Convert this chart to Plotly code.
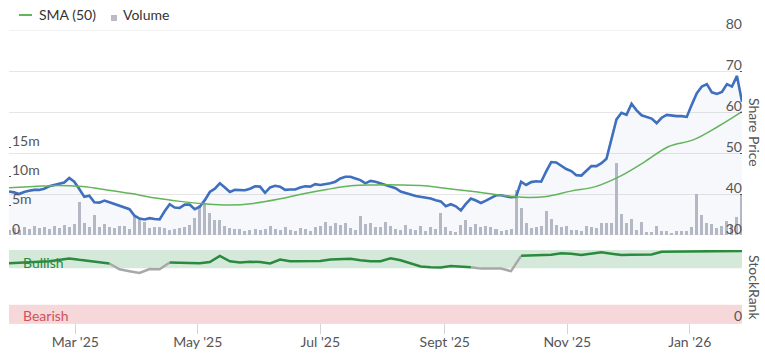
import pandas as pd
import plotly.graph_objects as go

START, END = "2025-01-27", "2026-01-27"

# Share price (evenly spaced over the year)
price = [40.6, 40.4, 40.0, 40.5, 40.8, 41.0, 41.0, 41.3, 41.9, 42.2,
         42.4, 42.8, 43.9, 43.0, 41.2, 39.3, 39.6, 38.0, 37.9, 38.4,
         38.0, 37.6, 37.2, 36.8, 36.3, 34.7, 34.0, 33.8, 34.1, 33.9,
         33.8, 35.8, 37.5, 36.7, 36.6, 37.4, 37.4, 36.3, 36.9, 38.5,
         40.5, 41.3, 42.6, 41.6, 40.5, 41.0, 40.9, 40.9, 41.3, 41.9,
         41.8, 40.3, 41.6, 42.0, 41.8, 41.0, 41.1, 41.1, 41.6, 41.9,
         41.8, 42.4, 42.2, 42.4, 42.6, 43.0, 43.8, 44.2, 44.2, 43.8,
         43.4, 42.6, 43.2, 43.0, 42.6, 42.2, 41.8, 41.4, 40.6, 40.3,
         39.9, 39.5, 39.3, 39.2, 38.9, 38.5, 38.2, 37.0, 37.5, 37.0,
         36.0, 37.6, 38.9, 38.4, 37.8, 38.4, 39.1, 39.7, 39.7, 39.5,
         39.2, 39.3, 43.0, 42.2, 42.9, 43.1, 43.0, 45.5, 47.8, 47.7,
         46.9, 46.1, 45.6, 44.6, 44.5, 45.7, 46.8, 46.8, 47.5, 48.6,
         53.5, 58.2, 59.8, 59.3, 62.0, 60.4, 59.2, 58.8, 58.4, 57.3,
         58.6, 59.3, 59.1, 59.0, 59.0, 58.8, 61.8, 64.6, 66.2, 66.8,
         64.8, 64.4, 64.9, 66.8, 66.2, 68.8, 62.5]

# Volume in millions
volume_m = [0.8, 1.2, 0.9, 1.3, 1.0, 1.6, 1.2, 1.4, 1.0, 1.5,
            1.2, 1.7, 1.3, 1.8, 5.7, 2.0, 1.4, 3.4, 1.3, 1.8,
            1.4, 1.2, 1.6, 1.5, 1.0, 3.2, 2.8, 2.2, 1.2, 1.4,
            1.4, 1.2, 0.9, 1.0, 1.2, 1.3, 1.7, 2.9, 5.1, 5.4,
            3.7, 2.6, 2.5, 1.6, 1.2, 1.0, 1.1, 0.6, 0.9, 1.0,
            0.8, 1.0, 1.5, 1.1, 0.9, 1.3, 0.8, 0.6, 1.2, 1.0,
            0.7, 1.3, 1.5, 2.2, 1.5, 2.0, 1.7, 2.1, 1.2, 0.9,
            3.2, 1.8, 2.1, 1.4, 1.3, 2.2, 1.5, 1.1, 0.9, 1.7,
            1.1, 0.8, 1.5, 0.6, 1.3, 1.1, 3.8, 1.3, 0.6, 0.5,
            1.7, 2.6, 1.4, 1.8, 1.3, 1.5, 1.3, 1.0, 0.6, 0.9,
            1.1, 7.7, 4.6, 2.0, 1.2, 1.4, 1.6, 4.1, 2.8, 1.7,
            1.3, 1.5, 0.9, 0.8, 0.6, 1.5, 1.3, 1.2, 2.1, 2.0,
            2.1, 12.3, 3.6, 2.0, 2.7, 0.8, 2.3, 0.5, 0.5, 1.6,
            0.6, 0.7, 0.3, 0.7, 0.6, 0.7, 1.4, 7.0, 3.5, 2.0,
            1.8, 1.2, 1.5, 2.4, 1.7, 3.0, 7.0]

# 50-day simple moving average
sma = [41.5, 41.8, 42.1, 41.8, 41.0, 40.1, 39.0, 38.2, 37.6, 37.3,
       37.7, 38.7, 40.0, 41.1, 42.0, 42.2, 42.2, 42.0, 41.3, 40.6,
       39.8, 39.2, 39.4, 40.7, 41.8, 44.3, 47.8, 51.6, 53.2, 56.4, 60.1]

# StockRank
stockrank = [82, 83, 83.5, 84, 84.5, 86, 88.5, 86.5, 84.5, 83.5,
             81.5, 73.5, 71, 68.5, 74, 73.5, 83, 83, 82.5, 82,
             83.5, 92, 84.5, 83, 84, 83.5, 81.5, 87, 84.5, 84.5,
             85, 85, 87, 88, 88, 86, 84.5, 84.5, 88.5, 86,
             82, 77.5, 76.5, 76, 78, 77, 76.5, 74.5, 74.8, 74.6,
             71, 92, 92.7, 93, 93.5, 95.5, 95, 93, 94.5, 97,
             95, 93, 93.5, 94, 94, 97.6, 97.8, 98, 98, 98.2,
             98.3, 98.5, 98.5, 98.8]
BULL_THRESHOLD = 75

tick_dates = ["2025-03-01", "2025-05-01", "2025-07-01", "2025-09-01", "2025-11-01", "2026-01-01"]
tick_labels = ["Mar '25", "May '25", "Jul '25", "Sept '25", "Nov '25", "Jan '26"]
price_ticks = [30, 40, 50, 60, 70, 80]
vol_ticks = [0, 5, 10, 15]
vol_labels = ["0", "5m", "10m", "15m"]

price_dates = pd.date_range(START, END, periods=len(price))
vol_dates = pd.date_range(START, END, periods=len(volume_m))
sma_dates = pd.date_range(START, END, periods=len(sma))
sr_dates = pd.date_range(START, END, periods=len(stockrank))

n = len(stockrank)
sr_green = [v if v >= BULL_THRESHOLD else None for v in stockrank]
sr_gray = []
for i, v in enumerate(stockrank):
    near = [stockrank[j] for j in (i - 1, i, i + 1) if 0 <= j < n]
    sr_gray.append(v if any(x < BULL_THRESHOLD for x in near) else None)

FONT = "Lato"
TXT = "#555555"
GREEN_SMA = "#63b45a"
BLUE = "#3f6fbf"
VOL_GRAY = "#babbc4"
GRID = "#e6e6e6"

fig = go.Figure()

fig.add_trace(go.Bar(x=vol_dates, y=volume_m, marker=dict(color=VOL_GRAY, line=dict(width=0)),
                     width=1.5 * 86400000, xaxis="x", yaxis="y2", name="Volume", showlegend=False))
fig.add_trace(go.Scatter(x=price_dates, y=price, mode="lines", line=dict(color=BLUE, width=2.6),
                         fill="tozeroy", fillcolor="rgba(70,110,200,0.05)",
                         xaxis="x", yaxis="y3", name="Price", showlegend=False))
fig.add_trace(go.Scatter(x=sma_dates, y=sma, mode="lines", line=dict(color=GREEN_SMA, width=1.5, shape="spline"),
                         xaxis="x", yaxis="y3", name="SMA (50)", showlegend=False))
fig.add_trace(go.Scatter(x=sr_dates, y=sr_gray, mode="lines", line=dict(color="#a8a8a8", width=2.5),
                         connectgaps=False, xaxis="x", yaxis="y", showlegend=False))
fig.add_trace(go.Scatter(x=sr_dates, y=sr_green, mode="lines", line=dict(color="#2a8a3e", width=2.5),
                         connectgaps=False, xaxis="x", yaxis="y", showlegend=False))

# Margins: plot area x 9..742, y 30..323
L, R, T, B = 9, 23, 30, 30
H = 353 - T - B
W = 765 - L - R
def py(p):
    return (353 - B - p) / H
def px(p):
    return (p - L) / W

shapes = [
    dict(type="rect", xref="paper", yref="y", x0=0, x1=1, y0=75, y1=100,
         fillcolor="#d5e9da", line=dict(width=0), layer="below"),
    dict(type="rect", xref="paper", yref="y", x0=0, x1=1, y0=0, y1=25,
         fillcolor="#f6d8da", line=dict(width=0), layer="below"),
    # edge gridlines of the price axis (plotly clips those at the range ends)
    dict(type="line", xref="paper", yref="y3", x0=0, x1=1, y0=price_ticks[-1], y1=price_ticks[-1],
         line=dict(color=GRID, width=1), layer="below"),
    dict(type="line", xref="paper", yref="y3", x0=0, x1=1, y0=price_ticks[0], y1=price_ticks[0],
         line=dict(color=GRID, width=1), layer="below"),
    # legend symbols
    dict(type="line", xref="paper", yref="paper", x0=px(19), x1=px(32), y0=py(15), y1=py(15),
         line=dict(color=GREEN_SMA, width=2)),
    dict(type="rect", xref="paper", yref="paper", x0=px(111), x1=px(117), y0=py(21), y1=py(15),
         fillcolor=VOL_GRAY, line=dict(width=0)),
]

annotations = [
    dict(text="SMA (50)", xref="paper", yref="paper", x=px(37), y=py(15), xanchor="left", yanchor="middle",
         showarrow=False, font=dict(family=FONT, size=14, color="#333333")),
    dict(text="Volume", xref="paper", yref="paper", x=px(121), y=py(15), xanchor="left", yanchor="middle",
         showarrow=False, font=dict(family=FONT, size=14, color="#333333")),
    dict(text="Share Price", xref="paper", yref="paper", x=1, xshift=13, y=py(132), xanchor="center",
         yanchor="middle", textangle=90, showarrow=False, font=dict(family=FONT, size=14, color=TXT)),
    dict(text="StockRank", xref="paper", yref="paper", x=1, xshift=13, y=py(287), xanchor="center",
         yanchor="middle", textangle=90, showarrow=False, font=dict(family=FONT, size=14, color=TXT)),
    dict(text="Bullish", xref="paper", yref="y", x=px(21), y=83.5, xanchor="left", yanchor="middle",
         showarrow=False, font=dict(family=FONT, size=14, color="#2a8a3e")),
    dict(text="Bearish", xref="paper", yref="y", x=px(21), y=9.6, xanchor="left", yanchor="middle",
         showarrow=False, font=dict(family=FONT, size=14, color="#d0505a")),
]

price_top = py(30)
price_bottom = py(235)
sr_top = py(250)

fig.update_layout(
    width=765, height=353,
    margin=dict(l=L, r=R, t=T, b=B, pad=0, autoexpand=False),
    paper_bgcolor="white", plot_bgcolor="white",
    font=dict(family=FONT, size=14, color=TXT),
    showlegend=False, bargap=0,
    xaxis=dict(type="date", range=[START, END], domain=[0, 1], anchor="y", automargin=False,
               tickvals=tick_dates, ticktext=tick_labels, ticks="outside", ticklen=10,
               ticklabelstandoff=-4,
               tickcolor="#d4d4d4", showgrid=False, showline=True, linecolor="#e4e4e4",
               tickfont=dict(family=FONT, size=14, color=TXT), zeroline=False),
    yaxis=dict(domain=[0, sr_top], range=[0, 100], side="right", anchor="x", automargin=False,
               tickvals=[0], ticktext=["0"], ticklabelposition="inside top", ticklabeloverflow="allow",
               ticklabelshift=3, ticklabelstandoff=-3,
               showgrid=False, zeroline=False, ticks="", tickfont=dict(family=FONT, size=14, color=TXT)),
    yaxis2=dict(domain=[price_bottom, price_top], range=[0, 35], side="left", anchor="x", automargin=False,
                tickvals=vol_ticks, ticktext=vol_labels, ticklabelposition="inside top",
                ticklabeloverflow="allow", ticklabelshift=4,
                showgrid=False, zeroline=False, ticks="inside", ticklen=2, tickcolor="#555555",
                tickfont=dict(family=FONT, size=14, color=TXT)),
    yaxis3=dict(overlaying="y2", range=[30, 80], side="right", anchor="x", automargin=False,
                tickvals=price_ticks, ticklabelposition="inside top", ticklabeloverflow="allow",
                ticklabelshift=4, ticklabelstandoff=-3,
                showgrid=True, gridcolor=GRID, gridwidth=1, zeroline=False,
                ticks="inside", ticklen=2, tickcolor="#555555",
                tickfont=dict(family=FONT, size=14, color=TXT)),
    shapes=shapes,
    annotations=annotations,
)

fig.write_html("out.html")
